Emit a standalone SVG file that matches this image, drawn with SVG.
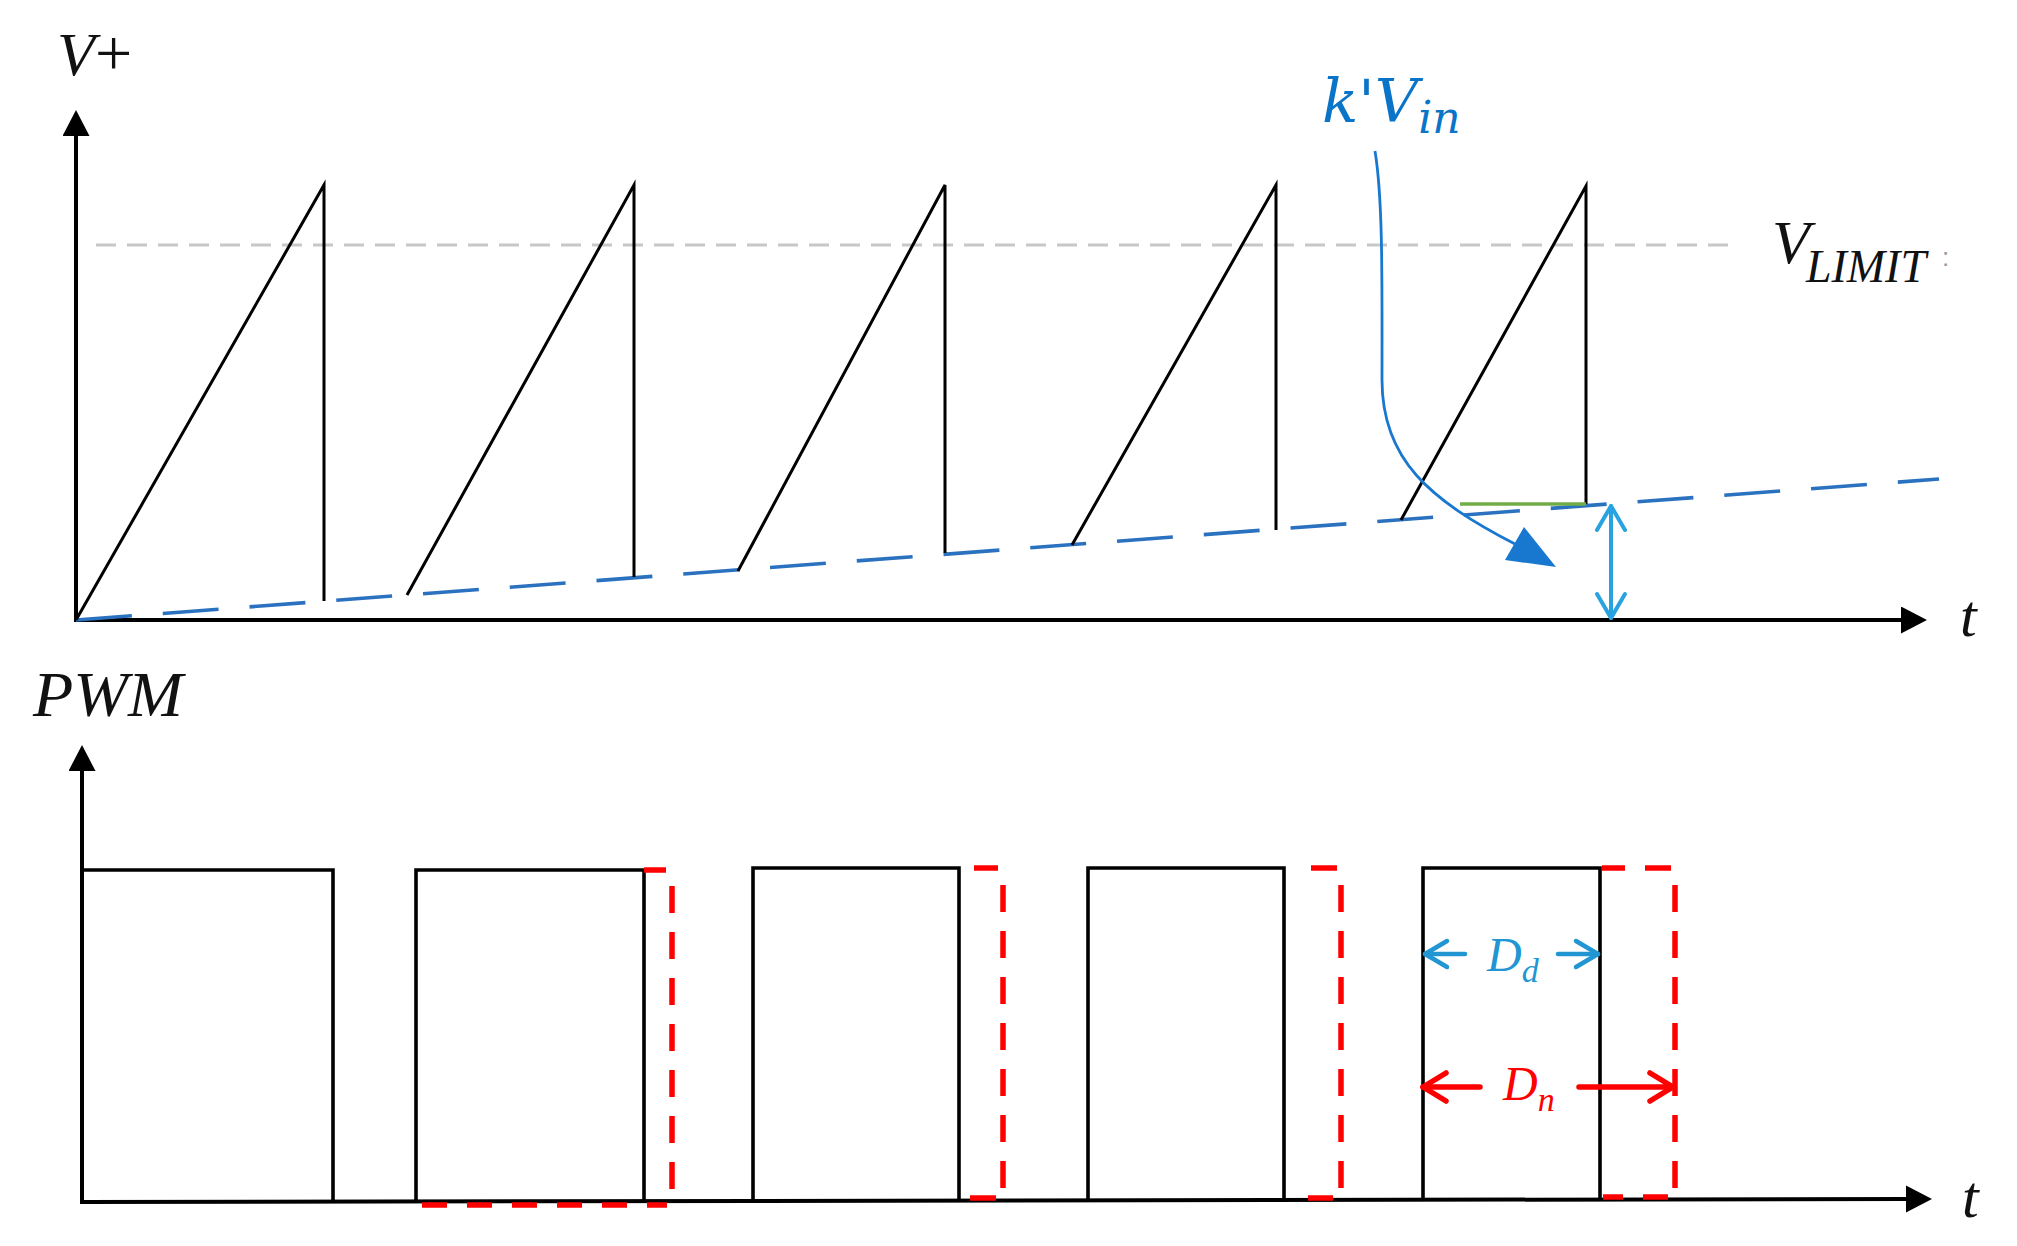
<svg xmlns="http://www.w3.org/2000/svg" width="2017" height="1246" viewBox="0 0 2017 1246">
<style>
.lbl{font-family:"Liberation Serif","Times New Roman",serif;font-style:italic;fill:#111}
.ax{stroke:#000;stroke-width:4;fill:none}
.saw{stroke:#000;stroke-width:3;fill:none;stroke-linejoin:miter}
.pulse{stroke:#000;stroke-width:3.6;fill:none;stroke-linejoin:miter}
.reddash{stroke:#ff0000;stroke-width:5.5;fill:none}
.vdash{stroke:#ff0000;stroke-width:5.5;fill:none;stroke-dasharray:27 19}
</style>
<defs>
<marker id="axisHead" markerUnits="userSpaceOnUse" markerWidth="27" markerHeight="28" refX="0" refY="13.5" orient="auto">
<path d="M0,0 L26,13.5 L0,27 z" fill="#000"/>
</marker>
</defs>
<rect width="2017" height="1246" fill="#fff"/>

<g id="top-axes">
<line class="ax" x1="76" y1="621" x2="76" y2="136" marker-end="url(#axisHead)"/>
<line class="ax" x1="74" y1="620" x2="1901" y2="620" marker-end="url(#axisHead)"/>
<text class="lbl" x="57" y="75" font-size="62">V<tspan font-style="normal" font-size="66">+</tspan></text>
<text class="lbl" x="1960" y="636" font-size="60">t</text>
</g>

<g id="vlimit">
<line x1="96" y1="245" x2="1730" y2="245" stroke="#c8c8c8" stroke-width="3" stroke-dasharray="20 11"/>
<text class="lbl" x="1772" y="263" font-size="62">V<tspan font-size="46" dy="19" dx="-4">LIMIT</tspan></text>
<text x="1942" y="266" font-family="Liberation Sans, Arial, sans-serif" font-size="26" fill="#999">:</text>
</g>

<g id="carrier">
<line x1="76" y1="620" x2="1939" y2="479" stroke="#2a72bf" stroke-width="3.6" stroke-dasharray="56 31"/>
</g>

<g id="sawtooth">
<polyline class="saw" points="76,620 324,185 324,601"/>
<polyline class="saw" points="407,595 634,185 634,577"/>
<polyline class="saw" points="738,571 945,185 945,553"/>
<polyline class="saw" points="1072,545 1276,185 1276,530"/>
<polyline class="saw" points="1401,520 1586,186 1586,504"/>
<line x1="1460" y1="504" x2="1586" y2="504" stroke="#70ad47" stroke-width="3.5"/>
</g>

<g id="kvin-label">
<text x="1322" y="122" font-family="DejaVu Serif, Liberation Serif, serif" font-style="italic" font-size="60" fill="#0a74c8">k'V<tspan font-size="44" dy="11">in</tspan></text>
</g>

<g id="bottom-axes">
<line class="ax" x1="82" y1="1203" x2="82" y2="771" stroke-width="3.4" marker-end="url(#axisHead)"/>
<line class="ax" x1="80" y1="1202" x2="1906" y2="1199" stroke-width="3.6" marker-end="url(#axisHead)"/>
<text class="lbl" x="33" y="716" font-size="63" textLength="150" lengthAdjust="spacingAndGlyphs">PWM</text>
<text class="lbl" x="1962" y="1217" font-size="60">t</text>
</g>

<g id="pwm-pulses">
<polyline class="pulse" points="82,870 333,870 333,1202"/>
<polyline class="pulse" points="416,1202 416,870 644,870 644,1202"/>
<polyline class="pulse" points="753,1201 753,868 959,868 959,1201"/>
<polyline class="pulse" points="1088,1200 1088,868 1284,868 1284,1200"/>
<polyline class="pulse" points="1423,1200 1423,868 1600,868 1600,1200"/>
</g>

<g id="pwm-extension">
<line class="reddash" x1="644" y1="870" x2="666" y2="870"/>
<line class="vdash" x1="672" y1="886" x2="672" y2="1192"/>
<line class="reddash" x1="422" y1="1205" x2="667" y2="1205" stroke-dasharray="25 20"/>
<line class="reddash" x1="974" y1="868" x2="998" y2="868"/>
<line class="vdash" x1="1003" y1="885" x2="1003" y2="1190"/>
<line class="reddash" x1="970" y1="1198" x2="996" y2="1198"/>
<line class="reddash" x1="1311" y1="868" x2="1337" y2="868"/>
<line class="vdash" x1="1341" y1="885" x2="1341" y2="1189"/>
<line class="reddash" x1="1308" y1="1198" x2="1333" y2="1198"/>
<line class="reddash" x1="1602" y1="868" x2="1625" y2="868"/>
<line class="reddash" x1="1645" y1="868" x2="1671" y2="868"/>
<line class="vdash" x1="1675" y1="885" x2="1675" y2="1189"/>
<line class="reddash" x1="1603" y1="1197" x2="1623" y2="1197"/>
<line class="reddash" x1="1643" y1="1197" x2="1668" y2="1197"/>
</g>

<g id="duty-labels">
<text class="lbl" x="1487" y="971" font-size="48" style="fill:#2196d3">D<tspan font-size="34" dy="11">d</tspan></text>
<text class="lbl" x="1503" y="1100" font-size="48" style="fill:#ff0000">D<tspan font-size="34" dy="11">n</tspan></text>
</g>

<g id="connectors">
<path d="M1375,151 C1383,200 1382,280 1382,380 C1382,460 1430,500 1515,544" fill="none" stroke="#1878d0" stroke-width="2.8"/>
<polygon points="1556,567 1505,560 1524,527" fill="#1878d0"/>
<g stroke="#29a3e0" stroke-width="4" fill="none" stroke-linecap="round" stroke-linejoin="round">
<line x1="1611" y1="506" x2="1611" y2="618"/>
<polyline points="1597,530 1611,506 1625,530"/>
<polyline points="1597,594 1611,618 1625,594"/>
</g>
<g stroke="#2196d3" stroke-width="4.5" fill="none" stroke-linecap="round" stroke-linejoin="round">
<line x1="1425" y1="954" x2="1465" y2="954"/>
<polyline points="1447,941 1425,954 1447,967"/>
<line x1="1558" y1="954" x2="1598" y2="954"/>
<polyline points="1576,941 1598,954 1576,967"/>
</g>
<g stroke="#ff0000" stroke-width="5.5" fill="none" stroke-linecap="round" stroke-linejoin="round">
<line x1="1423" y1="1087" x2="1480" y2="1087"/>
<polyline points="1446,1073 1423,1087 1446,1101"/>
<line x1="1579" y1="1087" x2="1673" y2="1087"/>
<polyline points="1650,1073 1673,1087 1650,1101"/>
</g>
</g>
</svg>
